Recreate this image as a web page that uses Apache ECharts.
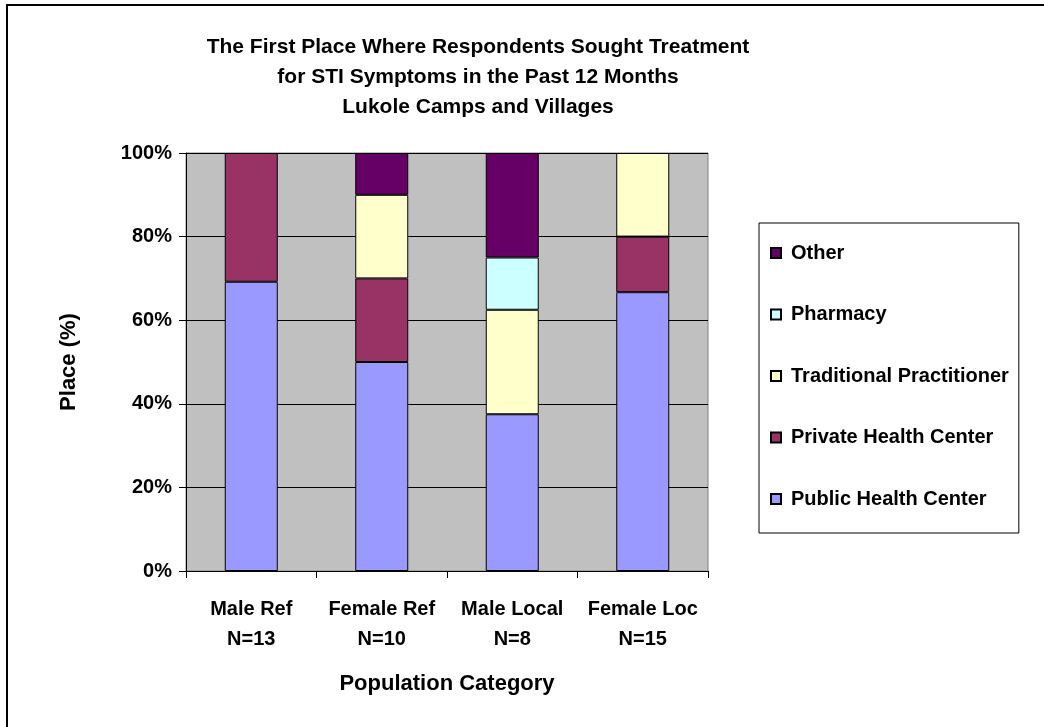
<!DOCTYPE html>
<html>
<head>
<meta charset="utf-8">
<title>First place sought treatment for STI symptoms</title>
<script src="https://cdn.jsdelivr.net/npm/echarts@6/dist/echarts.min.js"></script>
<style>
  html, body { margin: 0; padding: 0; background: #fff; }
  #chart { width: 1044px; height: 727px; }
</style>
</head>
<body>
<div id="chart"></div>
<script>
// categories and sample sizes
var categories = ['Male Ref', 'Female Ref', 'Male Local', 'Female Loc'];
var sampleSizes = [13, 10, 8, 15];

// percent of respondents, per place (bottom to top in the stack)
var publicHealth = [69.2, 50, 37.5, 66.7];
var privateHealth = [30.8, 20, 0, 13.3];
var traditional = [0, 20, 25, 20];
var pharmacy = [0, 0, 12.5, 0];
var other = [0, 10, 25, 0];

var yTicks = [0, 20, 40, 60, 80, 100];

var font = '"Liberation Sans", Arial, sans-serif';

function mkSeries(name, data, color) {
  return {
    name: name,
    type: 'bar',
    stack: 'total',
    barWidth: 53,
    data: data.map(function (v) { return v ? v : null; }),
    itemStyle: { color: color, borderColor: '#000', borderWidth: 1 },
    emphasis: { disabled: true }
  };
}

var chart = echarts.init(document.getElementById('chart'));
chart.setOption({
  animation: false,
  textStyle: { fontFamily: font },
  title: {
    text: 'The First Place Where Respondents Sought Treatment\nfor STI Symptoms in the Past 12 Months\nLukole Camps and Villages',
    left: 478,
    top: 32,
    textAlign: 'center',
    padding: 0,
    textStyle: { fontFamily: font, fontSize: 21, fontWeight: 'bold', color: '#000', lineHeight: 30 }
  },
  graphic: [{
    type: 'rect',
    shape: { x: 7, y: 5, width: 1100, height: 800 },
    style: { fill: null, stroke: '#000', lineWidth: 2 },
    silent: true
  }],
  legend: {
    orient: 'vertical',
    left: 759,
    top: 223,
    padding: [20, 10, 24, 11],
    itemGap: 41.5,
    itemWidth: 10,
    itemHeight: 10,
    icon: 'rect',
    borderColor: '#000',
    borderWidth: 1,
    backgroundColor: '#fff',
    data: ['Other', 'Pharmacy', 'Traditional Practitioner', 'Private Health Center', 'Public Health Center'],
    textStyle: { fontFamily: font, fontSize: 20, fontWeight: 'bold', color: '#000', lineHeight: 20, padding: [0, 0, 0, 5] }
  },
  grid: {
    left: 186,
    top: 153,
    width: 522,
    height: 418,
    show: true,
    backgroundColor: '#C0C0C0',
    borderColor: '#808080',
    borderWidth: 1
  },
  xAxis: {
    type: 'category',
    data: categories.map(function (c, i) { return c + '\nN=' + sampleSizes[i]; }),
    name: 'Population Category',
    nameLocation: 'middle',
    nameGap: 102,
    nameTextStyle: { fontFamily: font, fontSize: 22, fontWeight: 'bold', color: '#000' },
    axisLine: { show: true, lineStyle: { color: '#000', width: 1 } },
    axisTick: { show: true, alignWithLabel: false, interval: 0, length: 7, lineStyle: { color: '#000', width: 1 } },
    axisLabel: { interval: 0, margin: 23, fontFamily: font, fontSize: 20, fontWeight: 'bold', color: '#000', lineHeight: 30 }
  },
  yAxis: {
    type: 'value',
    min: yTicks[0],
    max: yTicks[yTicks.length - 1],
    interval: yTicks[1] - yTicks[0],
    name: 'Place (%)',
    nameLocation: 'middle',
    nameGap: 106,
    nameTextStyle: { fontFamily: font, fontSize: 22, fontWeight: 'bold', color: '#000' },
    axisLine: { show: true, lineStyle: { color: '#000', width: 1 } },
    axisTick: { show: true, length: 7, lineStyle: { color: '#000' } },
    splitLine: { lineStyle: { color: '#000', width: 1 } },
    axisLabel: { margin: 14, formatter: '{value}%', fontFamily: font, fontSize: 20, fontWeight: 'bold', color: '#000' }
  },
  series: [
    mkSeries('Public Health Center', publicHealth, '#9999FF'),
    mkSeries('Private Health Center', privateHealth, '#993366'),
    mkSeries('Traditional Practitioner', traditional, '#FFFFCC'),
    mkSeries('Pharmacy', pharmacy, '#CCFFFF'),
    mkSeries('Other', other, '#660066')
  ]
});
</script>
</body>
</html>
